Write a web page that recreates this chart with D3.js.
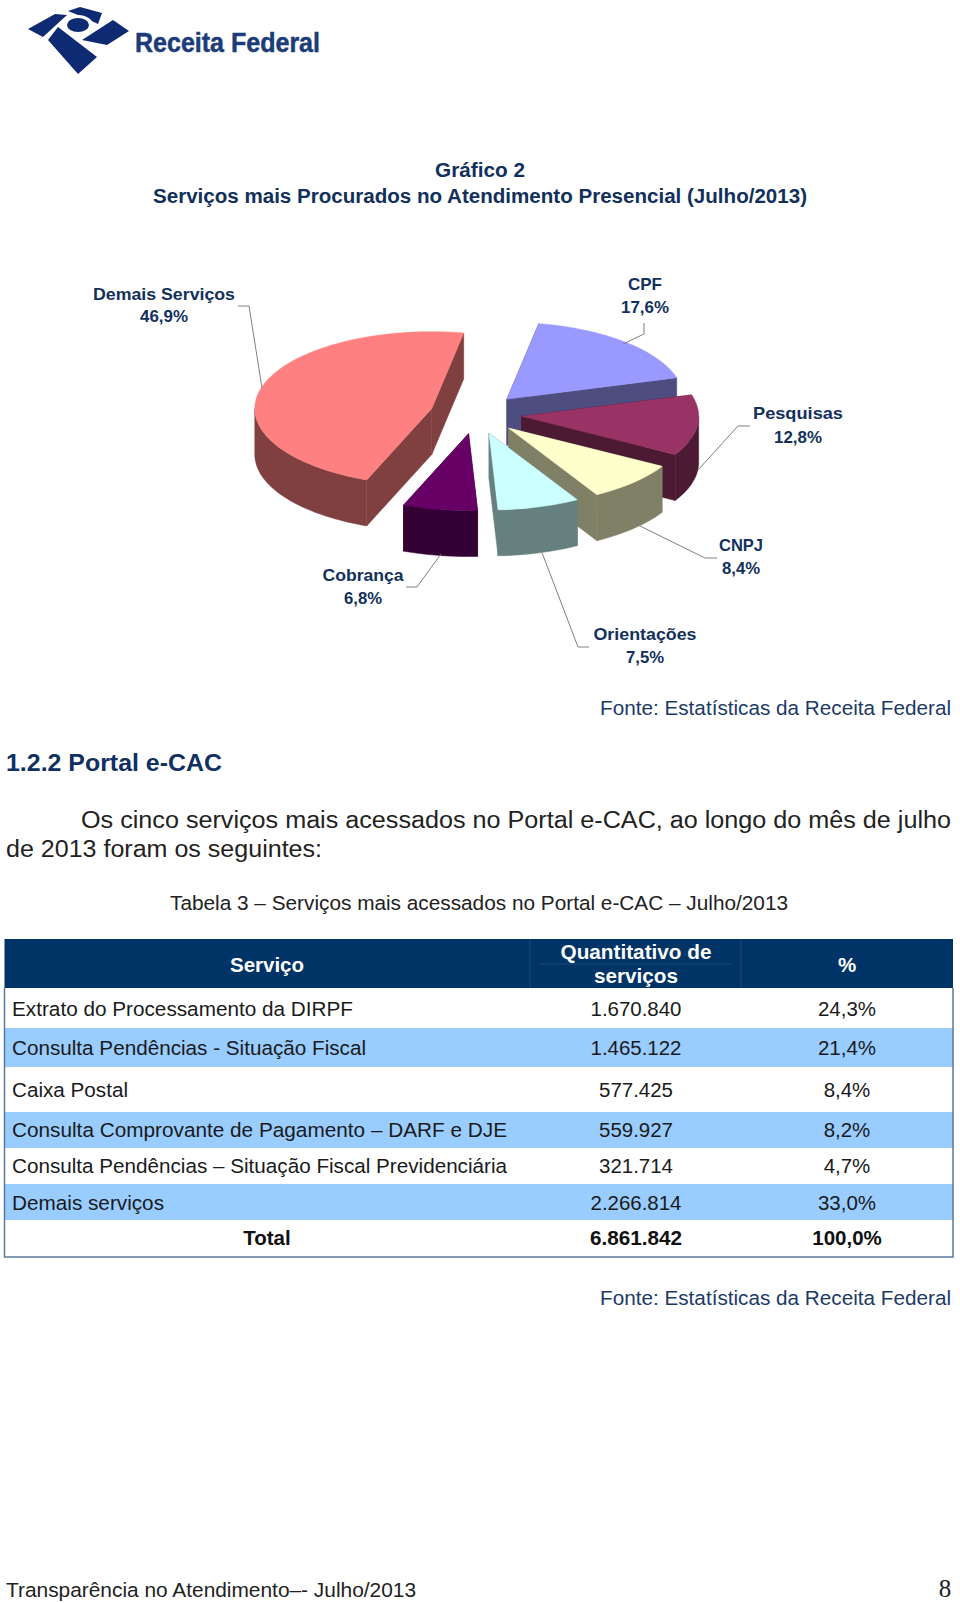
<!DOCTYPE html>
<html>
<head>
<meta charset="utf-8">
<script src="https://cdnjs.cloudflare.com/ajax/libs/d3/7.8.5/d3.min.js"></script>
<style>
    body { margin: 0; background: #fff; }
    svg { display: block; }
    text { font-family: "Liberation Sans", Arial, sans-serif; }
</style>
</head>
<body>
<div id="chart"></div>
<script>
// pie data
const pieLabels = ['CPF', 'Pesquisas', 'CNPJ', 'Orientações', 'Cobrança', 'Demais Serviços'];
const pieValues = [17.6, 12.8, 8.4, 7.5, 6.8, 46.9];
const pieValueLabels = ['17,6%', '12,8%', '8,4%', '7,5%', '6,8%', '46,9%'];

// table data
const tableHeader = ['Serviço', 'Quantitativo de serviços', '%'];
const tableServices = [
    'Extrato do Processamento da DIRPF',
    'Consulta Pendências - Situação Fiscal',
    'Caixa Postal',
    'Consulta Comprovante de Pagamento – DARF e DJE',
    'Consulta Pendências – Situação Fiscal Previdenciária',
    'Demais serviços'
];
const tableCounts = ['1.670.840', '1.465.122', '577.425', '559.927', '321.714', '2.266.814'];
const tablePercents = ['24,3%', '21,4%', '8,4%', '8,2%', '4,7%', '33,0%'];
const tableTotal = ['Total', '6.861.842', '100,0%'];

const svg = d3.select('#chart').append('svg').attr('width', 960).attr('height', 1603);

const navy = '#12305c';

function addText(txt, x, y, size, opts) {
    opts = opts || {};
    const t = svg.append('text')
        .attr('x', x).attr('y', y)
        .style('font-size', size + 'px')
        .style('fill', opts.fill || '#1a1a1a')
        .style('font-weight', opts.bold ? 'bold' : 'normal')
        .attr('text-anchor', opts.anchor || 'start')
        .text(txt);
    if (opts.family) t.style('font-family', opts.family);
    if (opts.len) t.attr('textLength', opts.len).attr('lengthAdjust', 'spacingAndGlyphs');
    return t;
}

// ---- logo ----
const logoBlue = '#0e2a73';
const logoShapes = [
    [[68, 11], [80, 7], [102, 13], [98, 24], [83, 17]],
    [[28, 29], [55, 14], [67, 15], [43, 37]],
    [[82, 40], [113, 20], [129, 31], [107, 45]],
    [[48, 40], [58, 27], [97, 57], [78, 74]]
];
svg.selectAll('.logo').data(logoShapes).enter().append('path')
    .attr('class', 'logo')
    .attr('d', d => d3.line()(d) + 'Z')
    .attr('fill', logoBlue);
svg.append('ellipse').attr('cx', 78).attr('cy', 25).attr('rx', 15).attr('ry', 10).attr('fill', '#fff');
svg.append('ellipse').attr('cx', 78).attr('cy', 25).attr('rx', 11).attr('ry', 7).attr('fill', logoBlue);
addText('Receita Federal', 135, 52, 28, { fill: '#1b3c78', bold: true, len: 185, family: '"Liberation Sans Narrow", "Liberation Sans", sans-serif' })
    .style('stroke', '#1b3c78').style('stroke-width', 0.5);

// ---- titles ----
addText('Gráfico 2', 480, 177, 20, { fill: navy, bold: true, anchor: 'middle', len: 90 });
addText('Serviços mais Procurados no Atendimento Presencial (Julho/2013)', 480, 203, 20, { fill: navy, bold: true, anchor: 'middle', len: 654 });

// ---- exploded 3d pie ----
const pieCx = 476, pieCy = 414, pieR = 177, pieTilt = 0.434, pieDepth = 46, pieExplode = 46;
const topColors = ['#9999ff', '#993366', '#ffffcc', '#ccffff', '#660066', '#ff8080'];
const wallColors = ['#4d4d80', '#4d1a33', '#808066', '#668080', '#330033', '#804040'];

const radius = d3.scaleLinear().domain([0, 1]).range([0, pieR]);
const rad = d => d * Math.PI / 180;
const arcs = d3.pie().sort(null).startAngle(rad(10.4)).endAngle(rad(370.4))(pieValues);

function project(a, r) {
    return [radius(r) * Math.sin(a), -radius(r) * Math.cos(a) * pieTilt];
}
// points along the rim of a slice between two angles
function rimPoints(d, from, to) {
    const n = Math.ceil((to - from) / rad(2));
    return d3.range(n + 1).map(function (k) {
        const p = project(from + (to - from) * k / n, 1);
        return [d.cx + p[0], d.cy + p[1]];
    });
}
const drop = pts => pts.map(p => [p[0], p[1] + pieDepth]);

arcs.forEach(function (d, i) {
    const mid = (d.startAngle + d.endAngle) / 2;
    const off = project(mid, pieExplode / pieR);
    d.cx = pieCx + off[0];
    d.cy = pieCy + off[1];
    d.color = topColors[i];
    d.wall = wallColors[i];
    const rim = rimPoints(d, d.startAngle, d.endAngle);
    d.top = [[d.cx, d.cy]].concat(rim);
    const apex = [d.cx, d.cy];
    const first = rim[0], last = rim[rim.length - 1];
    // the two cut faces, then the part of the rim that faces the viewer
    d.faces = [
        [apex, first, [first[0], first[1] + pieDepth], [apex[0], apex[1] + pieDepth]],
        [apex, last, [last[0], last[1] + pieDepth], [apex[0], apex[1] + pieDepth]]
    ];
    const lo = Math.max(d.startAngle, rad(90)), hi = Math.min(d.endAngle, rad(270));
    if (hi > lo) {
        const strip = rimPoints(d, lo, hi);
        d.faces.push(strip.concat(drop(strip).reverse()));
    }
});

const line = d3.line();
const slices = svg.selectAll('.slice')
    .data(arcs.slice().sort((a, b) => d3.ascending(a.cy, b.cy)))
    .enter().append('g').attr('class', 'slice');

slices.selectAll('.wall')
    .data(d => d.faces.map(f => ({ face: f, color: d.wall })))
    .enter().append('path')
    .attr('class', 'wall')
    .attr('d', d => line(d.face) + 'Z')
    .attr('fill', d => d.color)
    .attr('stroke', d => d.color)
    .attr('stroke-width', 0.5);

slices.append('path')
    .attr('d', d => line(d.top) + 'Z')
    .attr('fill', d => d.color)
    .attr('stroke', d => d.color)
    .attr('stroke-width', 0.5);

// leader lines and labels
const leaderPaths = [
    [[644, 323], [644, 334], [623, 344]],
    [[750, 426], [738, 426], [698, 470]],
    [[717, 558], [705, 558], [638, 525]],
    [[589, 647], [578, 647], [541, 550]],
    [[406, 587], [417, 587], [441, 554]],
    [[238, 306], [249, 306], [262, 388]]
];
const labelSpots = [[645, 290, 313], [798, 419, 443], [741, 551, 574], [645, 640, 663], [363, 581, 604], [164, 300, 322]];
const labelWidths = [34, 90, 44, 103, 81, 142];
const valueWidths = [48, 48, 38, 38, 38, 48];

svg.selectAll('.leader').data(leaderPaths).enter().append('path')
    .attr('class', 'leader')
    .attr('d', d => line(d))
    .attr('fill', 'none')
    .attr('stroke', '#808080')
    .attr('stroke-width', 1);

pieLabels.forEach(function (name, i) {
    const s = labelSpots[i];
    addText(name, s[0], s[1], 16.5, { fill: navy, bold: true, anchor: 'middle', len: labelWidths[i] });
    addText(pieValueLabels[i], s[0], s[2], 16.5, { fill: navy, bold: true, anchor: 'middle', len: valueWidths[i] });
});

// ---- section text ----
addText('Fonte: Estatísticas da Receita Federal', 951, 715, 20.5, { fill: '#1c3a66', anchor: 'end', len: 351 });
addText('1.2.2 Portal e-CAC', 6, 771, 24.5, { fill: '#0f3060', bold: true, len: 216 });
addText('Os cinco serviços mais acessados no Portal e-CAC, ao longo do mês de julho', 81, 828, 23.5, { fill: '#222', len: 870 });
addText('de 2013 foram os seguintes:', 6, 857, 23.5, { fill: '#222', len: 316 });
addText('Tabela 3 – Serviços mais acessados no Portal e-CAC – Julho/2013', 170, 910, 20.5, { fill: '#222', len: 618 });

// ---- table ----
const tableLeft = 4.5, tableRight = 953;
const rowEdges = [988, 1028, 1067, 1112, 1148, 1184, 1220, 1257];
const rowBaselines = [1016, 1055, 1097, 1137, 1173, 1210];
const colCentres = [267, 636, 847];
const serviceWidths = [341, 354, 116, 495, 495, 152];

svg.append('rect').attr('x', tableLeft).attr('y', 939).attr('width', tableRight - tableLeft).attr('height', 49).attr('fill', '#003366');
svg.append('line').attr('x1', 539).attr('x2', 732).attr('y1', 964).attr('y2', 964).attr('stroke', '#1a4a7a').attr('stroke-width', 1);
[530, 741].forEach(function (x) {
    svg.append('line').attr('x1', x).attr('x2', x).attr('y1', 939).attr('y2', 988).attr('stroke', '#1a4a7a').attr('stroke-width', 1);
});

svg.selectAll('.band').data(d3.range(tableServices.length)).enter().append('rect')
    .attr('class', 'band')
    .attr('x', tableLeft)
    .attr('y', i => rowEdges[i])
    .attr('width', tableRight - tableLeft)
    .attr('height', i => rowEdges[i + 1] - rowEdges[i])
    .attr('fill', i => i % 2 == 1 ? '#99ccff' : '#fff');

svg.append('path')
    .attr('d', line([[tableLeft, 988], [tableLeft, 1257], [tableRight, 1257], [tableRight, 988]]))
    .attr('fill', 'none').attr('stroke', '#5a7a9a').attr('stroke-width', 1.5);

addText(tableHeader[0], colCentres[0], 972, 20.5, { fill: '#fff', bold: true, anchor: 'middle' });
addText('Quantitativo de', colCentres[1], 959, 20.5, { fill: '#fff', bold: true, anchor: 'middle', len: 151 });
addText('serviços', colCentres[1], 983, 20.5, { fill: '#fff', bold: true, anchor: 'middle', len: 84 });
addText(tableHeader[2], colCentres[2], 972, 20.5, { fill: '#fff', bold: true, anchor: 'middle' });

tableServices.forEach(function (name, i) {
    const y = rowBaselines[i];
    addText(name, 12, y, 20.5, { len: serviceWidths[i] });
    addText(tableCounts[i], colCentres[1], y, 20.5, { anchor: 'middle', len: tableCounts[i].length > 7 ? 91 : 74 });
    addText(tablePercents[i], colCentres[2], y, 20.5, { anchor: 'middle' });
});
addText(tableTotal[0], colCentres[0], 1245, 20.5, { fill: '#111', bold: true, anchor: 'middle' });
addText(tableTotal[1], colCentres[1], 1245, 20.5, { fill: '#111', bold: true, anchor: 'middle', len: 92 });
addText(tableTotal[2], colCentres[2], 1245, 20.5, { fill: '#111', bold: true, anchor: 'middle' });

addText('Fonte: Estatísticas da Receita Federal', 951, 1305, 20.5, { fill: '#1c3a66', anchor: 'end', len: 351 });

// ---- footer ----
addText('Transparência no Atendimento–- Julho/2013', 6, 1597, 20.5, { fill: '#222', len: 410 });
addText('8', 945, 1597, 25, { fill: '#222', anchor: 'middle', family: '"Liberation Serif", serif' });
</script>
</body>
</html>
